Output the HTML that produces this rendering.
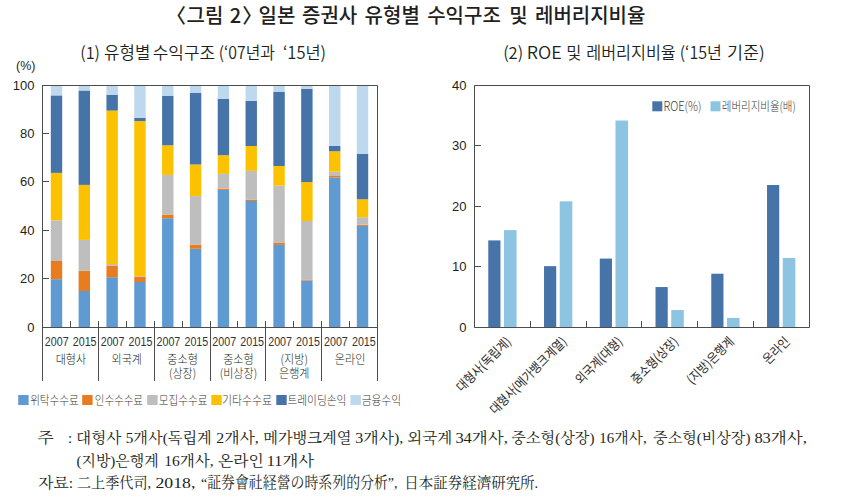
<!DOCTYPE html>
<html><head><meta charset="utf-8"><title>그림 2</title>
<style>
html,body{margin:0;padding:0;background:#fff;}
body{width:843px;height:504px;overflow:hidden;}
svg{display:block;}
text{fill:#231f20;}
.ax{font-family:"Liberation Sans",sans-serif;font-size:13px;}
.pct{font-family:"Liberation Sans",sans-serif;font-size:12.5px;}
.yr{font-family:"Liberation Sans",sans-serif;font-size:12.5px;fill:#333;}
.grp{font-family:"Noto Sans CJK KR",sans-serif;font-size:12px;font-weight:300;}
.rot{font-family:"Noto Sans CJK KR",sans-serif;font-size:13px;font-weight:400;fill:#2a2a2a}
</style></head>
<body>
<svg width="843" height="504" viewBox="0 0 843 504">
<rect x="50.8" y="279.20" width="11.4" height="47.80" fill="#5f9ad3"/>
<rect x="50.8" y="261.00" width="11.4" height="18.20" fill="#e97c1f"/>
<rect x="50.8" y="220.40" width="11.4" height="40.60" fill="#bdbebd"/>
<rect x="50.8" y="172.90" width="11.4" height="47.50" fill="#fcc200"/>
<rect x="50.8" y="95.40" width="11.4" height="77.50" fill="#4674a8"/>
<rect x="50.8" y="85.00" width="11.4" height="10.40" fill="#bed8ee"/>
<rect x="78.62" y="291.00" width="11.4" height="36.00" fill="#5f9ad3"/>
<rect x="78.62" y="270.80" width="11.4" height="20.20" fill="#e97c1f"/>
<rect x="78.62" y="239.90" width="11.4" height="30.90" fill="#bdbebd"/>
<rect x="78.62" y="184.90" width="11.4" height="55.00" fill="#fcc200"/>
<rect x="78.62" y="90.50" width="11.4" height="94.40" fill="#4674a8"/>
<rect x="78.62" y="85.00" width="11.4" height="5.50" fill="#bed8ee"/>
<rect x="106.44" y="277.20" width="11.4" height="49.80" fill="#5f9ad3"/>
<rect x="106.44" y="265.50" width="11.4" height="11.70" fill="#e97c1f"/>
<rect x="106.44" y="264.00" width="11.4" height="1.50" fill="#bdbebd"/>
<rect x="106.44" y="110.60" width="11.4" height="153.40" fill="#fcc200"/>
<rect x="106.44" y="94.70" width="11.4" height="15.90" fill="#4674a8"/>
<rect x="106.44" y="85.00" width="11.4" height="9.70" fill="#bed8ee"/>
<rect x="134.26" y="282.00" width="11.4" height="45.00" fill="#5f9ad3"/>
<rect x="134.26" y="276.70" width="11.4" height="5.30" fill="#e97c1f"/>
<rect x="134.26" y="276.00" width="11.4" height="0.70" fill="#bdbebd"/>
<rect x="134.26" y="121.10" width="11.4" height="154.90" fill="#fcc200"/>
<rect x="134.26" y="117.90" width="11.4" height="3.20" fill="#4674a8"/>
<rect x="134.26" y="85.00" width="11.4" height="32.90" fill="#bed8ee"/>
<rect x="162.08" y="218.20" width="11.4" height="108.80" fill="#5f9ad3"/>
<rect x="162.08" y="214.50" width="11.4" height="3.70" fill="#e97c1f"/>
<rect x="162.08" y="174.90" width="11.4" height="39.60" fill="#bdbebd"/>
<rect x="162.08" y="145.30" width="11.4" height="29.60" fill="#fcc200"/>
<rect x="162.08" y="95.70" width="11.4" height="49.60" fill="#4674a8"/>
<rect x="162.08" y="85.00" width="11.4" height="10.70" fill="#bed8ee"/>
<rect x="189.9" y="248.80" width="11.4" height="78.20" fill="#5f9ad3"/>
<rect x="189.9" y="244.60" width="11.4" height="4.20" fill="#e97c1f"/>
<rect x="189.9" y="196.10" width="11.4" height="48.50" fill="#bdbebd"/>
<rect x="189.9" y="164.50" width="11.4" height="31.60" fill="#fcc200"/>
<rect x="189.9" y="92.70" width="11.4" height="71.80" fill="#4674a8"/>
<rect x="189.9" y="85.00" width="11.4" height="7.70" fill="#bed8ee"/>
<rect x="217.72" y="189.90" width="11.4" height="137.10" fill="#5f9ad3"/>
<rect x="217.72" y="188.60" width="11.4" height="1.30" fill="#e97c1f"/>
<rect x="217.72" y="173.90" width="11.4" height="14.70" fill="#bdbebd"/>
<rect x="217.72" y="155.20" width="11.4" height="18.70" fill="#fcc200"/>
<rect x="217.72" y="98.70" width="11.4" height="56.50" fill="#4674a8"/>
<rect x="217.72" y="85.00" width="11.4" height="13.70" fill="#bed8ee"/>
<rect x="245.54" y="201.00" width="11.4" height="126.00" fill="#5f9ad3"/>
<rect x="245.54" y="199.60" width="11.4" height="1.40" fill="#e97c1f"/>
<rect x="245.54" y="170.90" width="11.4" height="28.70" fill="#bdbebd"/>
<rect x="245.54" y="146.00" width="11.4" height="24.90" fill="#fcc200"/>
<rect x="245.54" y="100.90" width="11.4" height="45.10" fill="#4674a8"/>
<rect x="245.54" y="85.00" width="11.4" height="15.90" fill="#bed8ee"/>
<rect x="273.36" y="244.90" width="11.4" height="82.10" fill="#5f9ad3"/>
<rect x="273.36" y="242.90" width="11.4" height="2.00" fill="#e97c1f"/>
<rect x="273.36" y="185.60" width="11.4" height="57.30" fill="#bdbebd"/>
<rect x="273.36" y="166.00" width="11.4" height="19.60" fill="#fcc200"/>
<rect x="273.36" y="91.70" width="11.4" height="74.30" fill="#4674a8"/>
<rect x="273.36" y="85.00" width="11.4" height="6.70" fill="#bed8ee"/>
<rect x="301.18" y="280.50" width="11.4" height="46.50" fill="#5f9ad3"/>
<rect x="301.18" y="279.50" width="11.4" height="1.00" fill="#e97c1f"/>
<rect x="301.18" y="221.00" width="11.4" height="58.50" fill="#bdbebd"/>
<rect x="301.18" y="182.10" width="11.4" height="38.90" fill="#fcc200"/>
<rect x="301.18" y="89.00" width="11.4" height="93.10" fill="#4674a8"/>
<rect x="301.18" y="85.00" width="11.4" height="4.00" fill="#bed8ee"/>
<rect x="329.0" y="177.40" width="11.4" height="149.60" fill="#5f9ad3"/>
<rect x="329.0" y="175.40" width="11.4" height="2.00" fill="#e97c1f"/>
<rect x="329.0" y="171.70" width="11.4" height="3.70" fill="#bdbebd"/>
<rect x="329.0" y="151.30" width="11.4" height="20.40" fill="#fcc200"/>
<rect x="329.0" y="146.00" width="11.4" height="5.30" fill="#4674a8"/>
<rect x="329.0" y="85.00" width="11.4" height="61.00" fill="#bed8ee"/>
<rect x="356.82" y="225.90" width="11.4" height="101.10" fill="#5f9ad3"/>
<rect x="356.82" y="224.70" width="11.4" height="1.20" fill="#e97c1f"/>
<rect x="356.82" y="217.20" width="11.4" height="7.50" fill="#bdbebd"/>
<rect x="356.82" y="199.30" width="11.4" height="17.90" fill="#fcc200"/>
<rect x="356.82" y="154.00" width="11.4" height="45.30" fill="#4674a8"/>
<rect x="356.82" y="85.00" width="11.4" height="69.00" fill="#bed8ee"/>
<path d="M42.5,85.5 H377.5 V381 M42.5,85.0 V381 M42.5,327.5 H377.5" stroke="#4d4d4d" stroke-width="1" fill="none"/>
<path d="M42.5,327.5 H49" stroke="#4d4d4d" stroke-width="1"/>
<text x="34.5" y="332.00" class="ax" text-anchor="end">0</text>
<path d="M42.5,278.5 H49" stroke="#4d4d4d" stroke-width="1"/>
<text x="34.5" y="283.00" class="ax" text-anchor="end">20</text>
<path d="M42.5,230.5 H49" stroke="#4d4d4d" stroke-width="1"/>
<text x="34.5" y="235.00" class="ax" text-anchor="end">40</text>
<path d="M42.5,181.5 H49" stroke="#4d4d4d" stroke-width="1"/>
<text x="34.5" y="186.00" class="ax" text-anchor="end">60</text>
<path d="M42.5,133.5 H49" stroke="#4d4d4d" stroke-width="1"/>
<text x="34.5" y="138.00" class="ax" text-anchor="end">80</text>
<path d="M42.5,85.5 H49" stroke="#4d4d4d" stroke-width="1"/>
<text x="34.5" y="90.00" class="ax" text-anchor="end">100</text>
<text x="35.5" y="70.2" class="pct" text-anchor="end">(%)</text>
<path d="M70.5,321.0 V327.0" stroke="#4d4d4d" stroke-width="1"/>
<path d="M98.5,321.0 V381" stroke="#4d4d4d" stroke-width="1"/>
<path d="M126.5,321.0 V327.0" stroke="#4d4d4d" stroke-width="1"/>
<path d="M154.5,321.0 V381" stroke="#4d4d4d" stroke-width="1"/>
<path d="M182.5,321.0 V327.0" stroke="#4d4d4d" stroke-width="1"/>
<path d="M210.5,321.0 V381" stroke="#4d4d4d" stroke-width="1"/>
<path d="M237.5,321.0 V327.0" stroke="#4d4d4d" stroke-width="1"/>
<path d="M265.5,321.0 V381" stroke="#4d4d4d" stroke-width="1"/>
<path d="M293.5,321.0 V327.0" stroke="#4d4d4d" stroke-width="1"/>
<path d="M321.5,321.0 V381" stroke="#4d4d4d" stroke-width="1"/>
<path d="M349.5,321.0 V327.0" stroke="#4d4d4d" stroke-width="1"/>
<text x="56.76" y="345.5" class="yr" text-anchor="middle" textLength="23.8" lengthAdjust="spacingAndGlyphs">2007</text>
<text x="84.67" y="345.5" class="yr" text-anchor="middle" textLength="23.8" lengthAdjust="spacingAndGlyphs">2015</text>
<text x="112.59" y="345.5" class="yr" text-anchor="middle" textLength="23.8" lengthAdjust="spacingAndGlyphs">2007</text>
<text x="140.51" y="345.5" class="yr" text-anchor="middle" textLength="23.8" lengthAdjust="spacingAndGlyphs">2015</text>
<text x="168.43" y="345.5" class="yr" text-anchor="middle" textLength="23.8" lengthAdjust="spacingAndGlyphs">2007</text>
<text x="196.34" y="345.5" class="yr" text-anchor="middle" textLength="23.8" lengthAdjust="spacingAndGlyphs">2015</text>
<text x="224.26" y="345.5" class="yr" text-anchor="middle" textLength="23.8" lengthAdjust="spacingAndGlyphs">2007</text>
<text x="252.18" y="345.5" class="yr" text-anchor="middle" textLength="23.8" lengthAdjust="spacingAndGlyphs">2015</text>
<text x="280.09" y="345.5" class="yr" text-anchor="middle" textLength="23.8" lengthAdjust="spacingAndGlyphs">2007</text>
<text x="308.01" y="345.5" class="yr" text-anchor="middle" textLength="23.8" lengthAdjust="spacingAndGlyphs">2015</text>
<text x="335.93" y="345.5" class="yr" text-anchor="middle" textLength="23.8" lengthAdjust="spacingAndGlyphs">2007</text>
<text x="363.84" y="345.5" class="yr" text-anchor="middle" textLength="23.8" lengthAdjust="spacingAndGlyphs">2015</text>
<text x="70.92" y="364.00" class="grp" text-anchor="middle" textLength="30.48" lengthAdjust="spacingAndGlyphs">대형사</text>
<text x="126.75" y="364.00" class="grp" text-anchor="middle" textLength="30.48" lengthAdjust="spacingAndGlyphs">외국계</text>
<text x="182.58" y="364.00" class="grp" text-anchor="middle" textLength="30.48" lengthAdjust="spacingAndGlyphs">중소형</text>
<text x="182.58" y="378.20" class="grp" text-anchor="middle" textLength="27.27" lengthAdjust="spacingAndGlyphs">(상장)</text>
<text x="238.42" y="364.00" class="grp" text-anchor="middle" textLength="30.48" lengthAdjust="spacingAndGlyphs">중소형</text>
<text x="238.42" y="378.20" class="grp" text-anchor="middle" textLength="37.43" lengthAdjust="spacingAndGlyphs">(비상장)</text>
<text x="294.25" y="364.00" class="grp" text-anchor="middle" textLength="27.27" lengthAdjust="spacingAndGlyphs">(지방)</text>
<text x="294.25" y="378.20" class="grp" text-anchor="middle" textLength="30.48" lengthAdjust="spacingAndGlyphs">은행계</text>
<text x="350.08" y="364.00" class="grp" text-anchor="middle" textLength="30.48" lengthAdjust="spacingAndGlyphs">온라인</text>
<rect x="18.2" y="395" width="10.4" height="10" fill="#5f9ad3"/>
<rect x="82.2" y="395" width="10.4" height="10" fill="#e97c1f"/>
<rect x="147.2" y="395" width="10.4" height="10" fill="#bdbebd"/>
<rect x="211.3" y="395" width="10.4" height="10" fill="#fcc200"/>
<rect x="276.3" y="395" width="10.4" height="10" fill="#4674a8"/>
<rect x="350.5" y="395" width="10.4" height="10" fill="#bed8ee"/>
<rect x="488.27" y="240.41" width="12.2" height="86.59" fill="#4674a8"/>
<rect x="503.98" y="230.12" width="12.6" height="96.88" fill="#8dc4e2"/>
<rect x="544.02" y="266.15" width="12.2" height="60.85" fill="#4674a8"/>
<rect x="559.73" y="201.36" width="12.6" height="125.64" fill="#8dc4e2"/>
<rect x="599.77" y="258.58" width="12.2" height="68.42" fill="#4674a8"/>
<rect x="615.48" y="120.52" width="12.6" height="206.48" fill="#8dc4e2"/>
<rect x="655.52" y="287.04" width="12.2" height="39.96" fill="#4674a8"/>
<rect x="671.23" y="310.05" width="12.6" height="16.95" fill="#8dc4e2"/>
<rect x="711.27" y="273.72" width="12.2" height="53.28" fill="#4674a8"/>
<rect x="726.98" y="317.92" width="12.6" height="9.08" fill="#8dc4e2"/>
<rect x="767.02" y="185.01" width="12.2" height="141.99" fill="#4674a8"/>
<rect x="782.73" y="257.97" width="12.6" height="69.03" fill="#8dc4e2"/>
<path d="M474.5,85.5 H809.5 V327.5 H474.5 Z" stroke="#4d4d4d" stroke-width="1" fill="none"/>
<path d="M474.5,327.5 H481" stroke="#4d4d4d" stroke-width="1"/>
<text x="466.5" y="332.40" class="ax" text-anchor="end">0</text>
<path d="M474.5,266.5 H481" stroke="#4d4d4d" stroke-width="1"/>
<text x="466.5" y="271.40" class="ax" text-anchor="end">10</text>
<path d="M474.5,206.5 H481" stroke="#4d4d4d" stroke-width="1"/>
<text x="466.5" y="211.40" class="ax" text-anchor="end">20</text>
<path d="M474.5,145.5 H481" stroke="#4d4d4d" stroke-width="1"/>
<text x="466.5" y="150.40" class="ax" text-anchor="end">30</text>
<path d="M474.5,85.5 H481" stroke="#4d4d4d" stroke-width="1"/>
<text x="466.5" y="90.40" class="ax" text-anchor="end">40</text>
<path d="M530.5,321.0 V327.0" stroke="#4d4d4d" stroke-width="1"/>
<path d="M586.5,321.0 V327.0" stroke="#4d4d4d" stroke-width="1"/>
<path d="M641.5,321.0 V327.0" stroke="#4d4d4d" stroke-width="1"/>
<path d="M697.5,321.0 V327.0" stroke="#4d4d4d" stroke-width="1"/>
<path d="M753.5,321.0 V327.0" stroke="#4d4d4d" stroke-width="1"/>
<text transform="translate(511.88,342.5) rotate(-45)" class="rot" text-anchor="end" textLength="70.73" lengthAdjust="spacingAndGlyphs">대형사(독립계)</text>
<text transform="translate(567.62,342.5) rotate(-45)" class="rot" text-anchor="end" textLength="102.47" lengthAdjust="spacingAndGlyphs">대형사(메가뱅크계열)</text>
<text transform="translate(623.38,342.5) rotate(-45)" class="rot" text-anchor="end" textLength="60.16" lengthAdjust="spacingAndGlyphs">외국계(대형)</text>
<text transform="translate(679.12,342.5) rotate(-45)" class="rot" text-anchor="end" textLength="60.16" lengthAdjust="spacingAndGlyphs">중소형(상장)</text>
<text transform="translate(734.88,342.5) rotate(-45)" class="rot" text-anchor="end" textLength="60.16" lengthAdjust="spacingAndGlyphs">(지방)은행계</text>
<text transform="translate(790.62,342.5) rotate(-45)" class="rot" text-anchor="end" textLength="31.75" lengthAdjust="spacingAndGlyphs">온라인</text>
<rect x="652.3" y="101.3" width="10" height="10" fill="#4674a8"/>
<rect x="710.5" y="101.3" width="10" height="10" fill="#8dc4e2"/>
<text x="166.00" y="23" style="font-family:'Noto Sans CJK KR',sans-serif;font-size:20px;font-weight:500;fill:#231f20">〈</text>
<text x="186.50" y="23" style="font-family:'Noto Sans CJK KR',sans-serif;font-size:20px;font-weight:500;fill:#231f20">그림</text>
<text x="229.80" y="23" style="font-family:'Noto Sans CJK KR',sans-serif;font-size:20px;font-weight:500;fill:#231f20">2</text>
<text x="242.20" y="23" style="font-family:'Noto Sans CJK KR',sans-serif;font-size:20px;font-weight:500;fill:#231f20">〉</text>
<text x="258.50" y="23" style="font-family:'Noto Sans CJK KR',sans-serif;font-size:20px;font-weight:500;fill:#231f20">일본</text>
<text x="302.00" y="23" style="font-family:'Noto Sans CJK KR',sans-serif;font-size:20px;font-weight:500;fill:#231f20">증권사</text>
<text x="364.60" y="23" style="font-family:'Noto Sans CJK KR',sans-serif;font-size:20px;font-weight:500;fill:#231f20">유형별</text>
<text x="427.20" y="23" style="font-family:'Noto Sans CJK KR',sans-serif;font-size:20px;font-weight:500;fill:#231f20">수익구조</text>
<text x="509.30" y="23" style="font-family:'Noto Sans CJK KR',sans-serif;font-size:20px;font-weight:500;fill:#231f20">및</text>
<text x="535.00" y="23" style="font-family:'Noto Sans CJK KR',sans-serif;font-size:20px;font-weight:500;fill:#231f20">레버리지비율</text>
<text x="80.34" y="59" textLength="19.68" lengthAdjust="spacingAndGlyphs" style="font-family:'Noto Sans CJK KR',sans-serif;font-size:17px;font-weight:350;fill:#231f20">(1)</text>
<text x="104.12" y="59" textLength="46.18" lengthAdjust="spacingAndGlyphs" style="font-family:'Noto Sans CJK KR',sans-serif;font-size:17px;font-weight:350;fill:#231f20">유형별</text>
<text x="152.70" y="59" textLength="62.46" lengthAdjust="spacingAndGlyphs" style="font-family:'Noto Sans CJK KR',sans-serif;font-size:17px;font-weight:350;fill:#231f20">수익구조</text>
<text x="218.77" y="59" textLength="56.08" lengthAdjust="spacingAndGlyphs" style="font-family:'Noto Sans CJK KR',sans-serif;font-size:17px;font-weight:350;fill:#231f20">(‘07년과</text>
<text x="282.93" y="59" textLength="43.14" lengthAdjust="spacingAndGlyphs" style="font-family:'Noto Sans CJK KR',sans-serif;font-size:17px;font-weight:350;fill:#231f20">‘15년)</text>
<text x="503.13" y="59" textLength="20.02" lengthAdjust="spacingAndGlyphs" style="font-family:'Noto Sans CJK KR',sans-serif;font-size:17px;font-weight:350;fill:#231f20">(2)</text>
<text x="526.89" y="59" textLength="34.89" lengthAdjust="spacingAndGlyphs" style="font-family:'Noto Sans CJK KR',sans-serif;font-size:17px;font-weight:350;fill:#231f20">ROE</text>
<text x="566.17" y="59" textLength="15.12" lengthAdjust="spacingAndGlyphs" style="font-family:'Noto Sans CJK KR',sans-serif;font-size:17px;font-weight:350;fill:#231f20">및</text>
<text x="586.25" y="59" textLength="89.46" lengthAdjust="spacingAndGlyphs" style="font-family:'Noto Sans CJK KR',sans-serif;font-size:17px;font-weight:350;fill:#231f20">레버리지비율</text>
<text x="679.75" y="59" textLength="42.18" lengthAdjust="spacingAndGlyphs" style="font-family:'Noto Sans CJK KR',sans-serif;font-size:17px;font-weight:350;fill:#231f20">(‘15년</text>
<text x="726.97" y="59" textLength="37.90" lengthAdjust="spacingAndGlyphs" style="font-family:'Noto Sans CJK KR',sans-serif;font-size:17px;font-weight:350;fill:#231f20">기준)</text>
<text x="30.15" y="405" textLength="48.63" lengthAdjust="spacingAndGlyphs" style="font-family:'Noto Sans CJK KR',sans-serif;font-size:12.5px;font-weight:300;fill:#3a3a3a">위탁수수료</text>
<text x="94.76" y="405" textLength="48.21" lengthAdjust="spacingAndGlyphs" style="font-family:'Noto Sans CJK KR',sans-serif;font-size:12.5px;font-weight:300;fill:#3a3a3a">인수수수료</text>
<text x="158.65" y="405" textLength="49.05" lengthAdjust="spacingAndGlyphs" style="font-family:'Noto Sans CJK KR',sans-serif;font-size:12.5px;font-weight:300;fill:#3a3a3a">모집수수료</text>
<text x="221.96" y="405" textLength="50.06" lengthAdjust="spacingAndGlyphs" style="font-family:'Noto Sans CJK KR',sans-serif;font-size:12.5px;font-weight:300;fill:#3a3a3a">기타수수료</text>
<text x="287.45" y="405" textLength="58.98" lengthAdjust="spacingAndGlyphs" style="font-family:'Noto Sans CJK KR',sans-serif;font-size:12.5px;font-weight:300;fill:#3a3a3a">트레이딩손익</text>
<text x="361.64" y="405" textLength="39.38" lengthAdjust="spacingAndGlyphs" style="font-family:'Noto Sans CJK KR',sans-serif;font-size:12.5px;font-weight:300;fill:#3a3a3a">금융수익</text>
<text x="663.51" y="110.9" textLength="38.02" lengthAdjust="spacingAndGlyphs" style="font-family:'Noto Sans CJK KR',sans-serif;font-size:12.5px;font-weight:300;fill:#3a3a3a">ROE(%)</text>
<text x="721.76" y="110.9" textLength="74.00" lengthAdjust="spacingAndGlyphs" style="font-family:'Noto Sans CJK KR',sans-serif;font-size:12.5px;font-weight:300;fill:#3a3a3a">레버리지비율(배)</text>
<text x="37.58" y="443" textLength="16.28" lengthAdjust="spacingAndGlyphs" style="font-family:'Liberation Serif','Noto Serif CJK KR','Noto Serif CJK SC',serif;font-size:15px;font-weight:400;fill:#231f20">주</text>
<text x="68.00" y="443" style="font-family:'Liberation Serif','Noto Serif CJK KR','Noto Serif CJK SC',serif;font-size:15px;font-weight:400;fill:#231f20">:</text>
<text x="76.11" y="443" textLength="45.35" lengthAdjust="spacingAndGlyphs" style="font-family:'Liberation Serif','Noto Serif CJK KR','Noto Serif CJK SC',serif;font-size:15px;font-weight:400;fill:#231f20">대형사</text>
<text x="125.79" y="443" textLength="85.99" lengthAdjust="spacingAndGlyphs" style="font-family:'Liberation Serif','Noto Serif CJK KR','Noto Serif CJK SC',serif;font-size:15px;font-weight:400;fill:#231f20">5개사(독립계</text>
<text x="216.24" y="443" textLength="42.56" lengthAdjust="spacingAndGlyphs" style="font-family:'Liberation Serif','Noto Serif CJK KR','Noto Serif CJK SC',serif;font-size:15px;font-weight:400;fill:#231f20">2개사,</text>
<text x="263.18" y="443" textLength="88.28" lengthAdjust="spacingAndGlyphs" style="font-family:'Liberation Serif','Noto Serif CJK KR','Noto Serif CJK SC',serif;font-size:15px;font-weight:400;fill:#231f20">메가뱅크계열</text>
<text x="355.24" y="443" textLength="48.07" lengthAdjust="spacingAndGlyphs" style="font-family:'Liberation Serif','Noto Serif CJK KR','Noto Serif CJK SC',serif;font-size:15px;font-weight:400;fill:#231f20">3개사),</text>
<text x="407.27" y="443" textLength="44.86" lengthAdjust="spacingAndGlyphs" style="font-family:'Liberation Serif','Noto Serif CJK KR','Noto Serif CJK SC',serif;font-size:15px;font-weight:400;fill:#231f20">외국계</text>
<text x="455.40" y="443" textLength="52.40" lengthAdjust="spacingAndGlyphs" style="font-family:'Liberation Serif','Noto Serif CJK KR','Noto Serif CJK SC',serif;font-size:15px;font-weight:400;fill:#231f20">34개사,</text>
<text x="511.29" y="443" textLength="83.17" lengthAdjust="spacingAndGlyphs" style="font-family:'Liberation Serif','Noto Serif CJK KR','Noto Serif CJK SC',serif;font-size:15px;font-weight:400;fill:#231f20">중소형(상장)</text>
<text x="599.31" y="443" textLength="47.42" lengthAdjust="spacingAndGlyphs" style="font-family:'Liberation Serif','Noto Serif CJK KR','Noto Serif CJK SC',serif;font-size:15px;font-weight:400;fill:#231f20">16개사,</text>
<text x="653.10" y="443" textLength="97.34" lengthAdjust="spacingAndGlyphs" style="font-family:'Liberation Serif','Noto Serif CJK KR','Noto Serif CJK SC',serif;font-size:15px;font-weight:400;fill:#231f20">중소형(비상장)</text>
<text x="754.40" y="443" textLength="52.40" lengthAdjust="spacingAndGlyphs" style="font-family:'Liberation Serif','Noto Serif CJK KR','Noto Serif CJK SC',serif;font-size:15px;font-weight:400;fill:#231f20">83개사,</text>
<text x="76.50" y="465.5" textLength="82.14" lengthAdjust="spacingAndGlyphs" style="font-family:'Liberation Serif','Noto Serif CJK KR','Noto Serif CJK SC',serif;font-size:15px;font-weight:400;fill:#231f20">(지방)은행계</text>
<text x="164.22" y="465.5" textLength="49.54" lengthAdjust="spacingAndGlyphs" style="font-family:'Liberation Serif','Noto Serif CJK KR','Noto Serif CJK SC',serif;font-size:15px;font-weight:400;fill:#231f20">16개사,</text>
<text x="218.05" y="465.5" textLength="45.82" lengthAdjust="spacingAndGlyphs" style="font-family:'Liberation Serif','Noto Serif CJK KR','Noto Serif CJK SC',serif;font-size:15px;font-weight:400;fill:#231f20">온라인</text>
<text x="266.72" y="465.5" textLength="47.26" lengthAdjust="spacingAndGlyphs" style="font-family:'Liberation Serif','Noto Serif CJK KR','Noto Serif CJK SC',serif;font-size:15px;font-weight:400;fill:#231f20">11개사</text>
<text x="38.25" y="488" textLength="34.97" lengthAdjust="spacingAndGlyphs" style="font-family:'Liberation Serif','Noto Serif CJK KR','Noto Serif CJK SC',serif;font-size:15px;font-weight:400;fill:#231f20">자료:</text>
<text x="77.03" y="488" textLength="74.07" lengthAdjust="spacingAndGlyphs" style="font-family:'Liberation Serif','Noto Serif CJK KR','Noto Serif CJK SC',serif;font-size:14.5px;font-weight:400;fill:#231f20">二上季代司,</text>
<text x="155.52" y="488" textLength="39.87" lengthAdjust="spacingAndGlyphs" style="font-family:'Liberation Serif','Noto Serif CJK KR','Noto Serif CJK SC',serif;font-size:15px;font-weight:400;fill:#231f20">2018,</text>
<text x="201.00" y="488" textLength="196.52" lengthAdjust="spacingAndGlyphs" style="font-family:'Liberation Serif','Noto Serif CJK KR','Noto Serif CJK SC',serif;font-size:15.5px;font-weight:400;fill:#231f20">“証券會社経營の時系列的分析”,</text>
<text x="404.30" y="488" textLength="133.93" lengthAdjust="spacingAndGlyphs" style="font-family:'Liberation Serif','Noto Serif CJK KR','Noto Serif CJK SC',serif;font-size:15px;font-weight:400;fill:#231f20">日本証券経濟研究所.</text>
</svg>
</body></html>
